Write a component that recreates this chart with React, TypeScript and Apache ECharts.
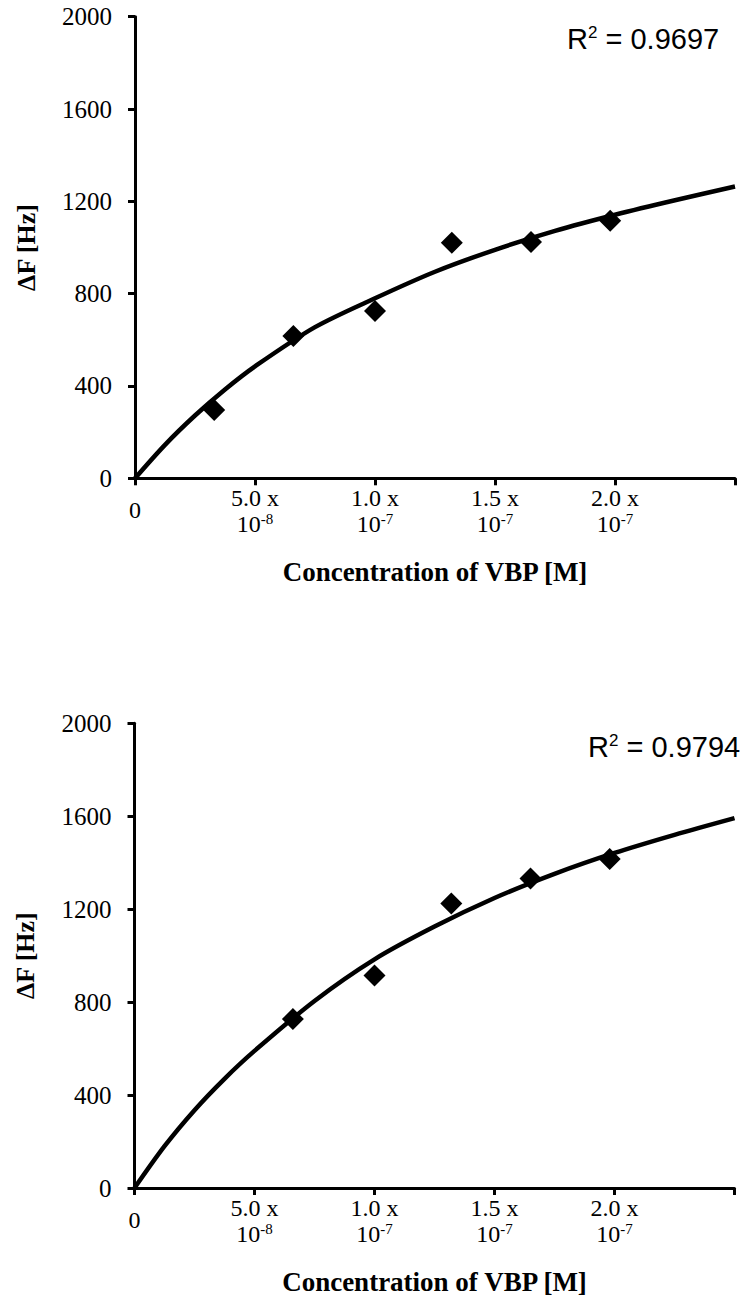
import React, { useEffect, useRef } from 'react';
import * as echarts from 'echarts';

// X tick labels (concentration, in units of 1e-8 M on the axis)
const xTickMain = ['0', '5.0 x', '1.0 x', '1.5 x', '2.0 x', ''];
const xTickExp = ['', '-8', '-7', '-7', '-7', ''];

// Chart A (top)
const concA = [3.3, 6.6, 10, 13.2, 16.5, 19.8];
const dfA = [296, 617, 725, 1021, 1024, 1116];
const fitConc = [0, 1.25, 2.5, 3.75, 5, 7.5, 10, 12.5, 15, 17.5, 20, 22.5, 25];
const fitADf = [0, 145, 272, 385, 485, 655, 780, 895, 990, 1072, 1142, 1205, 1264];
const r2A = '0.9697';

// Chart B (bottom)
const concB = [6.6, 10, 13.2, 16.5, 19.8];
const dfB = [727, 915, 1224, 1332, 1416];
const fitBDf = [0, 180, 335, 470, 590, 805, 984, 1125, 1248, 1352, 1442, 1520, 1592];
const r2B = '0.9794';

const yTitle = 'ΔF [Hz]';
const xTitle = 'Concentration of VBP [M]';

const SERIF = '"Liberation Serif", "Times New Roman", serif';
const SANS = '"Liberation Sans", Arial, sans-serif';

function makeXAxis(gridIndex: number) {
  return {
    type: 'value',
    gridIndex,
    min: 0,
    max: 25,
    interval: 5,
    splitLine: { show: false },
    axisLine: { show: true, onZero: false, lineStyle: { color: '#000', width: 3 } },
    axisTick: { show: true, length: 7, lineStyle: { color: '#000', width: 3 } },
    axisLabel: {
      show: true,
      margin: 6,
      color: '#000',
      fontFamily: SERIF,
      fontSize: 24,
      showMaxLabel: true,
      formatter: (v: number) => {
        const i = Math.round(v / 5);
        const m = xTickMain[i] ?? '';
        const e = xTickExp[i] ?? '';
        if (!m) return '';
        if (!e) return `{z|${m}}`;
        return `{m|${m}}\n{b|10}{s|${e}}`;
      },
      rich: {
        z: { fontSize: 24, lineHeight: 52, fontFamily: SERIF, color: '#000' },
        m: { fontSize: 24, lineHeight: 27, fontFamily: SERIF, color: '#000' },
        b: { fontSize: 24, lineHeight: 26, fontFamily: SERIF, color: '#000' },
        s: { fontSize: 15, lineHeight: 15, verticalAlign: 'top', fontFamily: SERIF, color: '#000' },
      },
    },
    name: xTitle,
    nameLocation: 'middle',
    nameGap: 80,
    nameTextStyle: { fontFamily: SERIF, fontSize: 27, fontWeight: 'bold', color: '#000' },
  };
}

function makeYAxis(gridIndex: number) {
  return {
    type: 'value',
    gridIndex,
    min: 0,
    max: 2000,
    interval: 400,
    splitLine: { show: false },
    axisLine: { show: true, onZero: false, lineStyle: { color: '#000', width: 3 } },
    axisTick: { show: true, length: 7, lineStyle: { color: '#000', width: 3 } },
    axisLabel: {
      margin: 23,
      color: '#000',
      fontFamily: SERIF,
      fontSize: 25,
      formatter: (v: number) => String(v),
    },
    name: yTitle,
    nameLocation: 'middle',
    nameRotate: 90,
    nameGap: 96,
    nameTextStyle: { fontFamily: SERIF, fontSize: 26, fontWeight: 'bold', color: '#000' },
  };
}

function scatter(idx: number, xs: number[], ys: number[]) {
  return {
    type: 'scatter',
    xAxisIndex: idx,
    yAxisIndex: idx,
    symbol: 'diamond',
    symbolSize: 22,
    itemStyle: { color: '#000', opacity: 1 },
    data: xs.map((x, i) => [x, ys[i]]),
    z: 3,
  };
}

function fit(idx: number, xs: number[], ys: number[]) {
  return {
    type: 'line',
    xAxisIndex: idx,
    yAxisIndex: idx,
    smooth: 0.3,
    showSymbol: false,
    lineStyle: { color: '#000', width: 4.5 },
    data: xs.map((x, i) => [x, ys[i]]),
    z: 2,
  };
}

function r2Text(x: number, y: number, val: string) {
  return {
    type: 'text',
    x,
    y,
    style: {
      text: `{r|R}{s|2}{r| = ${val}}`,
      verticalAlign: 'middle',
      align: 'left',
      rich: {
        r: { fontSize: 29, lineHeight: 30, fontFamily: SANS, fill: '#000', color: '#000' },
        s: { fontSize: 17, lineHeight: 17, verticalAlign: 'top', fontFamily: SANS, fill: '#000', color: '#000' },
      },
    },
  };
}

export default function App() {
  const ref = useRef<HTMLDivElement>(null);
  useEffect(() => {
    if (!ref.current) return;
    const chart = echarts.init(ref.current, undefined, { renderer: 'svg' });
    chart.setOption({
      animation: false,
      backgroundColor: '#fff',
      grid: [
        { left: 135, top: 16.7, width: 600, height: 461.6 },
        { left: 134.5, top: 723.3, width: 600, height: 466 },
      ],
      xAxis: [makeXAxis(0), makeXAxis(1)],
      yAxis: [makeYAxis(0), makeYAxis(1)],
      series: [
        fit(0, fitConc, fitADf),
        scatter(0, concA, dfA),
        fit(1, fitConc, fitBDf),
        scatter(1, concB, dfB),
      ],
      graphic: [r2Text(567, 39, r2A), r2Text(588, 747, r2B)],
    });
    return () => chart.dispose();
  }, []);
  return (
    <div
      ref={ref}
      style={{ position: 'absolute', left: 0, top: 0, width: 746, height: 1296 }}
    />
  );
}
